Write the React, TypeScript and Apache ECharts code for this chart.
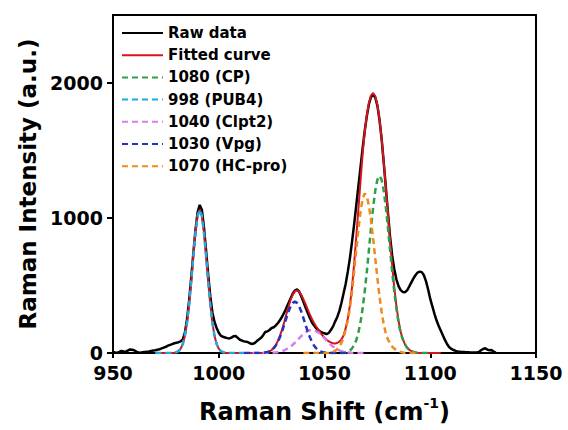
import React, { useEffect, useRef } from "react";
import * as echarts from "echarts";

// Raw spectrum, 1 cm-1 steps starting at 950
const rawStart = 950;
const rawIntensity = [
  8, 4, 2, 8, 16, 12, 10, 18, 26, 24,
  20, 10, 3, 2, 5, 8, 10, 12, 15, 18,
  20, 24, 28, 34, 40, 46, 54, 60, 66, 72,
  76, 80, 86, 100, 150, 250, 390, 560, 740, 910,
  1040, 1095, 1060, 930, 760, 580, 420, 300, 230, 185,
  150, 128, 120, 115, 110, 108, 114, 124, 126, 112,
  98, 92, 86, 84, 78, 70, 67, 74, 88, 100,
  112, 132, 155, 160, 170, 185, 190, 205, 222, 244,
  270, 300, 335, 370, 405, 440, 462, 470, 455, 420,
  380, 338, 300, 262, 228, 205, 185, 170, 158, 150,
  146, 140, 148, 170, 195, 232, 265, 310, 370, 440,
  510, 600, 700, 820, 950, 1090, 1230, 1370, 1510, 1640,
  1750, 1840, 1895, 1910, 1890, 1830, 1725, 1585, 1410, 1225,
  1035, 860, 720, 620, 545, 495, 465, 452, 450, 462,
  490, 520, 550, 575, 595, 602, 598, 575, 530, 470,
  400, 345, 290, 240, 200, 165, 130, 95, 65, 42,
  30, 22, 16, 12, 10, 8, 7, 6, 5, 4,
  4, 3, 4, 8, 20, 30, 35, 25, 20, 22,
  10, 3,
];

// Fitted curve, 1 cm-1 steps starting at 970
const fitStart = 970;
const fitIntensity = [
  0, 0, 0, 0, 0, 0, 0, 0, 0,
  2, 6, 14, 32, 66, 127, 223, 359, 530, 718, 891, 1015, 1060, 1015, 891, 718, 530, 359, 223, 127, 66, 32, 14, 6, 2,
  0, 0, 0, 0, 0, 0, 0, 0, 0, 0, 0, 0, 0, 0, 0, 0, 0, 0,
  4, 7, 12, 22, 39, 60, 91, 130, 176, 231, 288, 344, 394, 432, 456, 463, 454, 431,
  399, 363, 324, 288, 254, 224, 198, 174, 151, 131,
  114, 98, 86, 78, 72, 70, 74, 84, 100, 130,
  182, 254, 351, 484, 658, 854, 1059, 1265, 1467, 1632,
  1760, 1851, 1906, 1923, 1901, 1837, 1730, 1587, 1413, 1223,
  1026, 831, 648, 484, 349, 239, 157, 104, 65, 40,
  25, 15, 8, 4,
  0, 0, 0, 0, 0, 0, 0, 0, 0, 0, 0, 0,
];

// Fitted components
const cpStart = 1048; // 1080 (CP)
const cpIntensity = [
  0, 0, 0, 0, 0, 0, 0, 0, 0, 0, 0, 0,
  5, 10, 18, 34, 58, 94, 149, 225, 327, 452, 600, 761, 926, 1078, 1201, 1282, 1310,
  1282, 1201, 1078, 926, 761, 600, 452, 327, 225, 149, 100, 65, 40, 25, 15, 8, 4,
  0, 0, 0, 0, 0, 0, 0,
];
const pubStart = 970; // 998 (PUB4)
const pubIntensity = [
  0, 0, 0, 0, 0, 0, 0, 0, 0,
  2, 6, 14, 32, 66, 127, 223, 359, 530, 718, 891, 1015, 1060, 1015, 891, 718, 530, 359, 223, 127, 66, 32, 14, 6, 2,
  0, 0, 0, 0, 0, 0, 0, 0, 0,
];
const clpStart = 1016; // 1040 (Clpt2)
const clpIntensity = [
  0, 0, 0, 0, 0, 0, 0, 0, 0, 0,
  3, 4, 7, 10, 14, 20, 28, 37, 48, 61, 76, 92, 108, 124, 139, 152, 162, 168, 170,
  168, 162, 152, 139, 124, 108, 92, 76, 61, 48, 37, 28, 20, 14, 10, 7, 4, 3,
  0, 0, 0, 0, 0, 0, 0, 0,
];
const vpgStart = 1012; // 1030 (Vpg)
const vpgIntensity = [
  0, 0, 0, 0, 0, 0, 0, 0, 0, 0,
  4, 7, 12, 22, 36, 56, 84, 120, 162, 211, 260, 307, 346, 371, 380,
  371, 346, 307, 260, 211, 162, 120, 84, 56, 36, 22, 12, 7, 4,
  0, 0, 0, 0, 0, 0, 0, 0, 0, 0,
];
const hcStart = 1040; // 1070 (HC-pro)
const hcIntensity = [
  0, 0, 0, 0, 0, 0, 0, 0, 0, 0, 0, 0, 0,
  6, 10, 17, 28, 45, 75, 115, 170, 240, 330, 450, 600, 760, 910, 1040, 1140, 1180,
  1160, 1090, 980, 845, 700, 555, 420, 305, 212, 145, 100, 70, 48, 32, 22, 14, 8, 4,
  0, 0, 0, 0, 0, 0, 0, 0,
];

const xTicks = [950, 1000, 1050, 1100, 1150];
const yTicks = [0, 1000, 2000];

const toPairs = (start: number, vals: number[]) => vals.map((v, i) => [start + i, v]);

const FONT = "DejaVu Sans";

export default function App() {
  const ref = useRef<HTMLDivElement>(null);
  useEffect(() => {
    if (!ref.current) return;
    const chart = echarts.init(ref.current, null, { renderer: "svg" });
    const dash = [6, 4];
    const mk = (name: string, data: number[][], color: string, width: number, type: any) => ({
      type: "line",
      name,
      data,
      xAxisIndex: 0,
      yAxisIndex: 0,
      symbol: "none",
      showSymbol: false,
      silent: true,
      itemStyle: { color },
      lineStyle: { color, width, type },
      emphasis: { disabled: true },
    });
    const plain = (v: number) => String(v);
    chart.setOption({
      animation: false,
      backgroundColor: "#ffffff",
      grid: {
        left: 113,
        top: 15,
        width: 423,
        height: 338,
      },
      legend: {
        orient: "vertical",
        left: 121,
        top: 24,
        padding: 0,
        itemWidth: 41,
        itemHeight: 18,
        itemGap: 4.2,
        itemStyle: { opacity: 0, borderWidth: 0 },
        textStyle: { fontSize: 15, fontWeight: "bold", fontFamily: FONT, color: "#000", lineHeight: 18 },
        data: ["Raw data", "Fitted curve", "1080 (CP)", "998 (PUB4)", "1040 (Clpt2)", "1030 (Vpg)", "1070 (HC-pro)"],
      },
      xAxis: [
        {
          type: "value",
          min: xTicks[0],
          max: xTicks[xTicks.length - 1],
          interval: 50,
          name: "{a|Raman Shift (cm}{s|-1}{a|)}",
          nameLocation: "middle",
          nameGap: 43,
          nameTextStyle: {
            rich: {
              a: { fontSize: 24, fontWeight: "bold", fontFamily: FONT, color: "#000", lineHeight: 28, verticalAlign: "bottom" },
              s: { fontSize: 14, fontWeight: "bold", fontFamily: FONT, color: "#000", lineHeight: 16, verticalAlign: "top" },
            },
          },
          axisLine: { show: true, onZero: false, lineStyle: { color: "#000", width: 2 } },
          axisTick: { show: true, length: 5, lineStyle: { color: "#000", width: 2 } },
          axisLabel: { color: "#000", fontSize: 19, fontWeight: "bold", fontFamily: FONT, margin: 10, formatter: plain },
          splitLine: { show: false },
        },
        {
          type: "value",
          position: "top",
          min: xTicks[0],
          max: xTicks[xTicks.length - 1],
          axisLine: { show: true, onZero: false, lineStyle: { color: "#000", width: 2 } },
          axisTick: { show: false },
          axisLabel: { show: false },
          splitLine: { show: false },
        },
      ],
      yAxis: [
        {
          type: "value",
          min: 0,
          max: 2500,
          interval: 1000,
          name: "Raman Intensity (a.u.)",
          nameLocation: "middle",
          nameGap: 72,
          nameTextStyle: { fontSize: 23, fontWeight: "bold", fontFamily: FONT, color: "#000" },
          axisLine: { show: true, onZero: false, lineStyle: { color: "#000", width: 2 } },
          axisTick: { show: true, length: 6, customValues: yTicks, lineStyle: { color: "#000", width: 2 } },
          axisLabel: { color: "#000", fontSize: 19, fontWeight: "bold", fontFamily: FONT, margin: 10, customValues: yTicks, formatter: plain },
          splitLine: { show: false },
        },
        {
          type: "value",
          position: "right",
          min: 0,
          max: 2500,
          axisLine: { show: true, onZero: false, lineStyle: { color: "#000", width: 2 } },
          axisTick: { show: false },
          axisLabel: { show: false },
          splitLine: { show: false },
        },
      ],
      series: [
        mk("Raw data", toPairs(rawStart, rawIntensity), "#000000", 2.5, "solid"),
        mk("Fitted curve", toPairs(fitStart, fitIntensity), "#d4141e", 2, "solid"),
        mk("1080 (CP)", toPairs(cpStart, cpIntensity), "#2e9e48", 2.5, dash),
        mk("998 (PUB4)", toPairs(pubStart, pubIntensity), "#1fa9e1", 2.5, dash),
        mk("1040 (Clpt2)", toPairs(clpStart, clpIntensity), "#d77fe8", 2.5, dash),
        mk("1030 (Vpg)", toPairs(vpgStart, vpgIntensity), "#2233c0", 2.5, dash),
        mk("1070 (HC-pro)", toPairs(hcStart, hcIntensity), "#f08a1c", 2.5, dash),
      ],
    });
    return () => chart.dispose();
  }, []);
  return <div ref={ref} style={{ position: "absolute", left: 0, top: 0, width: 568, height: 430 }} />;
}
